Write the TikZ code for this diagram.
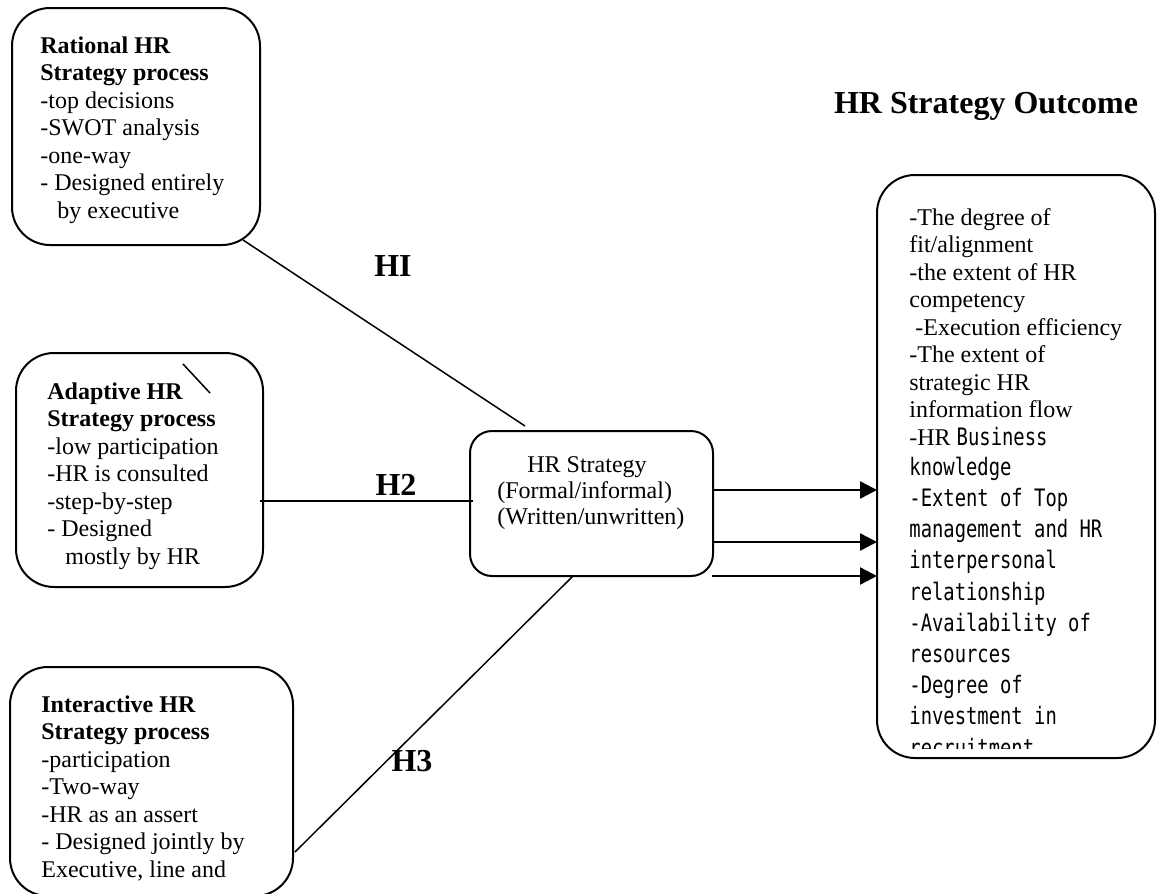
\documentclass[tikz,border=0pt]{standalone}
\usepackage{fontspec}
\setmainfont{Liberation Serif}
\newfontfamily\gothic[FakeStretch=0.785]{DejaVu Sans Mono}
\usetikzlibrary{arrows.meta}

\begin{document}
\begin{tikzpicture}[x=0.5pt, y=-0.5pt,
    procbox/.style={draw, line width=1pt, rounded corners=19pt, inner sep=0pt, outer sep=0pt},
    boxtext/.style={anchor=north west, inner sep=0pt, align=left, font=\fontsize{12}{13.75}\selectfont},
    hlabel/.style={font=\fontsize{16}{19}\selectfont\bfseries, inner sep=0pt},
    link/.style={line width=0.75pt},
    outarrow/.style={line width=1.2pt, -{Triangle[length=8.5pt, width=8.5pt]}}]
  % Page frame
  \useasboundingbox (0,0) rectangle (1157,894);
  % Process boxes
  \node[procbox, minimum width=124pt, minimum height=118.5pt] (rational) at (136,126.5) {};
  \node[procbox, minimum width=123.5pt, minimum height=117pt] (adaptive) at (139.5,470) {};
  \node[procbox, minimum width=141.5pt, minimum height=114.5pt] (interactive) at (151.5,781.5) {};
  % Strategy and outcome boxes
  \node[procbox, rounded corners=11pt, minimum width=121.5pt, minimum height=72.5pt] (strategy) at (591.5,503.5) {};
  \node[procbox, minimum width=139pt, minimum height=291.5pt] (outcome) at (1016,466.5) {};
  % Box texts
  \node[boxtext] (rational-text) at (40,36)
    {\textbf{Rational HR}\\\textbf{Strategy process}\\-top decisions\\-SWOT analysis\\-one-way\\- Designed entirely\\\hspace*{8.5pt}by executive};
  \node[boxtext] (adaptive-text) at (47,382)
    {\textbf{Adaptive HR}\\\textbf{Strategy process}\\-low participation\\-HR is consulted\\-step-by-step\\- Designed\\\hspace*{9pt}mostly by HR};
  \node[boxtext] (interactive-text) at (41,695)
    {\textbf{Interactive HR}\\\textbf{Strategy process}\\-participation\\-Two-way\\-HR as an assert\\- Designed jointly by\\Executive, line and};
  \node[boxtext, font=\fontsize{12}{13}\selectfont] (strategy-text) at (497,456)
    {\hspace*{15pt}HR Strategy\\(Formal/informal)\\(Written/unwritten)};
  \begin{scope}
    \clip (870,170) rectangle (1150,748);
    \node[boxtext] (outcome-text) at (909,208)
      {-The degree of\\fit/alignment\\-the extent of HR\\competency\\\hspace*{3pt}-Execution efficiency\\-The extent of\\strategic HR\\information flow\\-HR {\gothic Business}\\[1.25pt]
       {\gothic knowledge}\\[1.85pt]{\gothic -Extent of Top}\\[1.85pt]{\gothic management and HR}\\[1.85pt]{\gothic interpersonal}\\[1.85pt]{\gothic relationship}\\[1.85pt]
       {\gothic -Availability of}\\[1.85pt]{\gothic resources}\\[1.85pt]{\gothic -Degree of}\\[1.85pt]{\gothic investment in}\\[1.85pt]{\gothic recruitment}};
  \end{scope}
  % Title
  \node[hlabel, anchor=base] (outcome-title) at (986,113) {HR Strategy Outcome};
  % Hypotheses
  \node[hlabel] (h1) at (393,266) {HI};
  \node[hlabel] (h2) at (396,485) {H2};
  \node[hlabel] (h3) at (412,761) {H3};
  \draw[link] ([xshift=-8.5pt,yshift=2.5pt]rational.south east) -- ([xshift=-33.25pt,yshift=2.5pt]strategy.north);
  \draw[link] ([xshift=-1.5pt,yshift=-15.5pt]adaptive.east) -- ([xshift=1.5pt,yshift=1.25pt]strategy.west);
  \draw[link] ([xshift=1pt,yshift=-35.25pt]interactive.east) -- ([xshift=-9.25pt]strategy.south);
  \draw[link] (183,364) -- (210,393);
  % Outcome arrows
  \coordinate (out1) at ([yshift=6.75pt]strategy.east);
  \coordinate (out2) at ([yshift=-19.25pt]strategy.east);
  \coordinate (out3) at ([xshift=-0.5pt,yshift=-36.25pt]strategy.east);
  \draw[outarrow] (out1) -- (out1 -| outcome.west);
  \draw[outarrow] (out2) -- (out2 -| outcome.west);
  \draw[outarrow] (out3) -- (out3 -| outcome.west);
\end{tikzpicture}
\end{document}
